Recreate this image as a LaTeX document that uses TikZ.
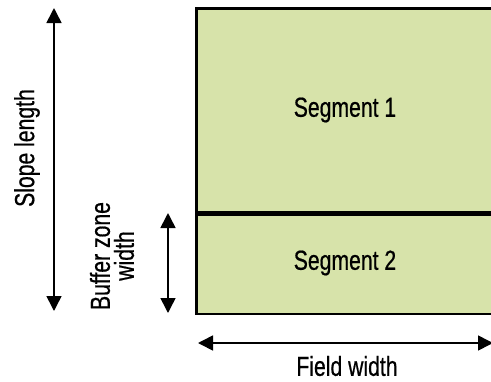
\documentclass[tikz,border=0pt]{standalone}
\usepackage{fontspec}
\setmainfont[FakeStretch=0.77, FakeBold=0.6]{Liberation Sans}
\usetikzlibrary{arrows.meta, positioning}
\definecolor{fieldgreen}{RGB}{215,227,170}
\tikzset{
  segbox/.style={draw, line width=2.6pt, fill=fieldgreen, inner sep=0pt, minimum width=305pt},
  dimarrow/.style={{Triangle[length=15pt,width=15pt]}-{Triangle[length=15pt,width=15pt]}, line width=1.6pt},
  dimlabel/.style={font=\fontsize{27.5}{24}\selectfont, align=center, inner sep=0pt}
}

\begin{document}
\begin{tikzpicture}[x=1pt, y=-1pt]
\clip (0,0) rectangle (491,381);
% field split into two segments
\node[segbox, minimum height=204pt, anchor=north west] (seg1) at (195,7) {};
\node[segbox, minimum height=99pt, anchor=north west] (seg2) at (seg1.south west) {};
\draw[line width=2pt] (seg1.south west) -- (seg1.south east);
\node[dimlabel] (seg1lbl) at (345,110) {Segment 1};
\node[dimlabel] (seg2lbl) at (345,263) {Segment 2};

% dimension arrows
\coordinate (slopetop) at (54,8);
\coordinate (slopebot) at (54,311);
\coordinate (buftop) at (168,213);
\coordinate (bufbot) at (168,313);
\coordinate (fieldl) at (198,343);
\coordinate (fieldr) at (493,343);
\draw[dimarrow] (slopetop) -- (slopebot);
\draw[dimarrow] (buftop) -- (bufbot);
\draw[dimarrow] (fieldl) -- (fieldr);

\node[dimlabel, rotate=90] (slopelbl) at (27,148) {Slope length};
\node[dimlabel, rotate=90] (buflbl) at (112,256) {Buffer zone\\width};
\node[dimlabel] (fieldlbl) at (347,366) {Field width};
\end{tikzpicture}
\end{document}
